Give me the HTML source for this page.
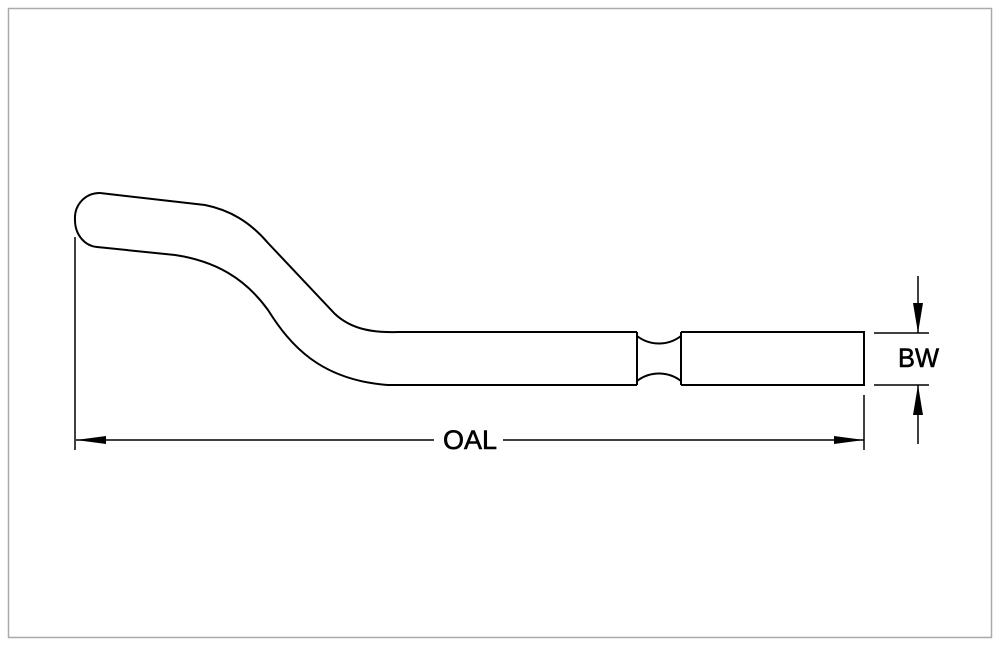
<!DOCTYPE html>
<html><head><style>html,body{margin:0;padding:0;background:#fff}</style></head><body>
<svg width="1001" height="644" xmlns="http://www.w3.org/2000/svg">
<rect x="8.5" y="8.5" width="983" height="629" fill="none" stroke="#aaa" stroke-width="1.5"/>
<g fill="none" stroke="#000" stroke-width="2">
<path d="M100,193 L205,205 C230,210 250,222 268,243 L335,314 C350,328 370,333 398,332 L637,332"/>
<path d="M100,193 C85,193 74,205 75,220 C75,235 85,246 97,247 L175,255 C215,261 245,278 268,310 C290,345 320,380 388,385 L637,385"/>
<path d="M637,332 L637,385 M681,332 L681,385"/>
<path d="M637,336 C650,346 668,346 681,336 M637,381 C650,371 668,371 681,381"/>
<path d="M681,332 L864,332 L864,385 L681,385"/>
</g>
<g stroke="#000" stroke-width="1.5" fill="none">
<line x1="75" y1="237" x2="75" y2="450"/>
<line x1="864" y1="395" x2="864" y2="450"/>
<line x1="76" y1="440" x2="434" y2="440"/>
<line x1="503" y1="440" x2="864" y2="440"/>
<line x1="874" y1="333" x2="929" y2="333"/>
<line x1="874" y1="385" x2="929" y2="385"/>
<line x1="918" y1="276" x2="918" y2="333"/>
<line x1="918" y1="385" x2="918" y2="444"/>
</g>
<g fill="#000">
<polygon points="76,440 106,436 106,444"/>
<polygon points="864,440 834,436 834,444"/>
<polygon points="918,333 913,303 923,303"/>
<polygon points="918,385 913,415 923,415"/>
</g>
<g font-family="Liberation Sans, sans-serif" font-size="27" fill="#000" stroke="#000" stroke-width="0.6">
<text x="443" y="449" textLength="54" lengthAdjust="spacingAndGlyphs">OAL</text>
<text x="898" y="367" textLength="41" lengthAdjust="spacingAndGlyphs">BW</text>
</g>
</svg>
</body></html>
